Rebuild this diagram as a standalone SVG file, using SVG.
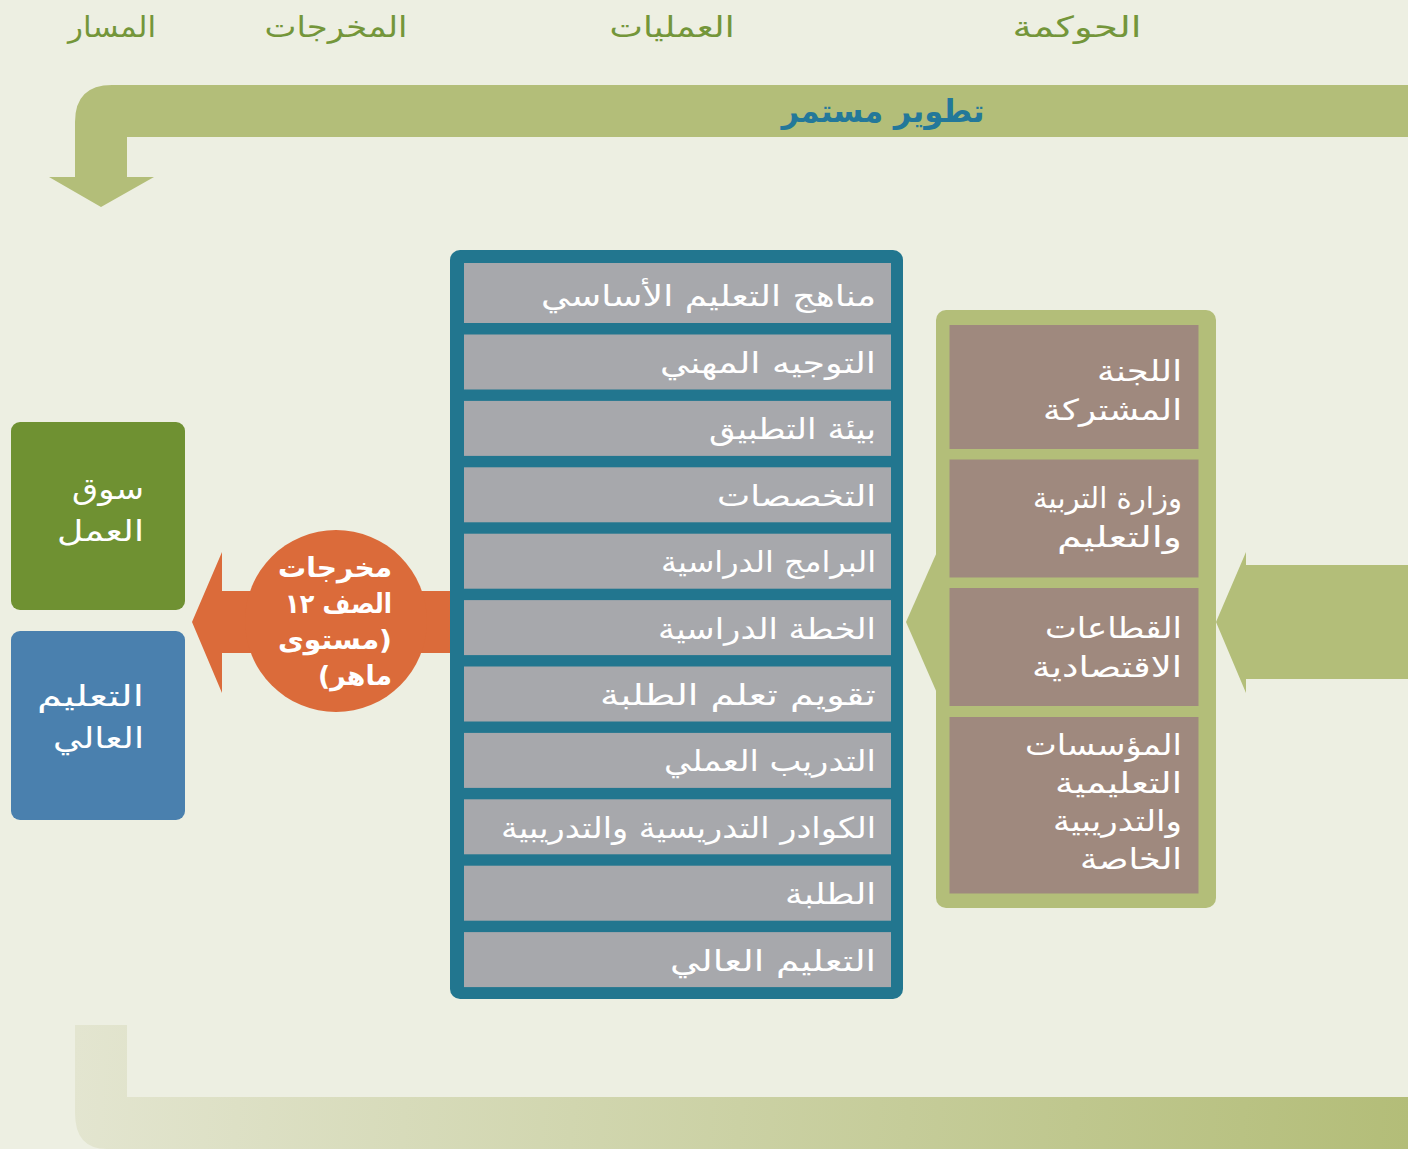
<svg xmlns="http://www.w3.org/2000/svg" width="1408" height="1149" viewBox="0 0 1408 1149">
<defs>
<linearGradient id="gBottom" x1="75" y1="1040" x2="1408" y2="1149" gradientUnits="userSpaceOnUse">
<stop offset="0" stop-color="#E3E5D0"/>
<stop offset="1" stop-color="#B3BD78"/>
</linearGradient>
<style>
.ar{font-family:"DejaVu Sans","Noto Sans",sans-serif;direction:rtl;unicode-bidi:embed}
.hdr{font-size:29px;fill:#74963A;text-anchor:middle}
.row{font-size:29px;fill:#FFFFFF;text-anchor:start}
.gov{font-size:29px;fill:#FFFFFF;text-anchor:start}
.side{font-size:29px;fill:#FFFFFF;text-anchor:start}
.org{font-size:27px;font-weight:bold;fill:#FFFFFF;text-anchor:start}
.rowbox{fill:#A7A8AC}
.govbox{fill:#9F897E}
</style>
</defs>
<rect width="1408" height="1149" fill="#EDEFE2"/>

<g id="headers">
<text class="ar hdr" x="112" y="37" textLength="88" lengthAdjust="spacingAndGlyphs">المسار</text>
<text class="ar hdr" x="336" y="37" textLength="143" lengthAdjust="spacingAndGlyphs">المخرجات</text>
<text class="ar hdr" x="672" y="37" textLength="125" lengthAdjust="spacingAndGlyphs">العمليات</text>
<text class="ar hdr" x="1077" y="37" textLength="129" lengthAdjust="spacingAndGlyphs">الحوكمة</text>
</g>

<g id="connectors">
<path id="top-arrow" d="M1408,85 L112,85 Q75,85 75,122 L75,177 L49,177 L101,207 L154,177 L127,177 L127,137 L1408,137 Z" fill="#B3BE79"/>
<path id="bottom-arrow" d="M75,1025 L127,1025 L127,1097 L1408,1097 L1408,1149 L107,1149 Q75,1149 75,1113 Z" fill="url(#gBottom)"/>
<polygon id="right-arrow" points="1408,565 1246,565 1246,552 1216,622 1246,693 1246,679 1408,679" fill="#B3BE79"/>
<polygon id="gov-arrow" points="937,552 906,622 937,693" fill="#B3BE79"/>
<polygon id="out-arrow" points="451,591 222,591 222,552 192,622 222,693 222,653 451,653" fill="#DB6B3A"/>
</g>

<g id="title">
<text class="ar" x="883" y="122" font-size="32" font-weight="bold" fill="#23789A" text-anchor="middle" textLength="203" lengthAdjust="spacingAndGlyphs">تطوير مستمر</text>
</g>

<g id="node-operations">
<rect x="450" y="250" width="453" height="749" rx="10" fill="#22768F"/>
<rect class="rowbox" x="464" y="263" width="427" height="60"/>
<rect class="rowbox" x="464" y="334.5" width="427" height="55"/>
<rect class="rowbox" x="464" y="400.9" width="427" height="55"/>
<rect class="rowbox" x="464" y="467.3" width="427" height="55"/>
<rect class="rowbox" x="464" y="533.7" width="427" height="55"/>
<rect class="rowbox" x="464" y="600.1" width="427" height="55"/>
<rect class="rowbox" x="464" y="666.5" width="427" height="55"/>
<rect class="rowbox" x="464" y="732.9" width="427" height="55"/>
<rect class="rowbox" x="464" y="799.3" width="427" height="55"/>
<rect class="rowbox" x="464" y="865.7" width="427" height="55"/>
<rect class="rowbox" x="464" y="932.1" width="427" height="55"/>
<text class="ar row" x="876" y="306" textLength="335" lengthAdjust="spacingAndGlyphs">مناهج التعليم الأساسي</text>
<text class="ar row" x="876" y="373" textLength="216" lengthAdjust="spacingAndGlyphs">التوجيه المهني</text>
<text class="ar row" x="876" y="439" textLength="167" lengthAdjust="spacingAndGlyphs">بيئة التطبيق</text>
<text class="ar row" x="876" y="506" textLength="159" lengthAdjust="spacingAndGlyphs">التخصصات</text>
<text class="ar row" x="876" y="572" textLength="215" lengthAdjust="spacingAndGlyphs">البرامج الدراسية</text>
<text class="ar row" x="876" y="639" textLength="218" lengthAdjust="spacingAndGlyphs">الخطة الدراسية</text>
<text class="ar row" x="876" y="705" textLength="276" lengthAdjust="spacingAndGlyphs">تقويم تعلم الطلبة</text>
<text class="ar row" x="876" y="771" textLength="212" lengthAdjust="spacingAndGlyphs">التدريب العملي</text>
<text class="ar row" x="876" y="838" textLength="375" lengthAdjust="spacingAndGlyphs">الكوادر التدريسية والتدريبية</text>
<text class="ar row" x="876" y="904" textLength="91" lengthAdjust="spacingAndGlyphs">الطلبة</text>
<text class="ar row" x="876" y="971" textLength="206" lengthAdjust="spacingAndGlyphs">التعليم العالي</text>
</g>

<g id="node-governance">
<rect x="936" y="310" width="280" height="598" rx="10" fill="#B3BE79"/>
<rect class="govbox" x="949.5" y="325" width="249" height="124"/>
<rect class="govbox" x="949.5" y="459.5" width="249" height="118"/>
<rect class="govbox" x="949.5" y="588" width="249" height="118"/>
<rect class="govbox" x="949.5" y="717" width="249" height="176.5"/>
<text class="ar gov" x="1182" y="381" textLength="85" lengthAdjust="spacingAndGlyphs">اللجنة</text>
<text class="ar gov" x="1182" y="420" textLength="139" lengthAdjust="spacingAndGlyphs">المشتركة</text>
<text class="ar gov" x="1182" y="508" textLength="149" lengthAdjust="spacingAndGlyphs">وزارة التربية</text>
<text class="ar gov" x="1182" y="547" textLength="125" lengthAdjust="spacingAndGlyphs">والتعليم</text>
<text class="ar gov" x="1182" y="638" textLength="137" lengthAdjust="spacingAndGlyphs">القطاعات</text>
<text class="ar gov" x="1182" y="677" textLength="150" lengthAdjust="spacingAndGlyphs">الاقتصادية</text>
<text class="ar gov" x="1182" y="755" textLength="157" lengthAdjust="spacingAndGlyphs">المؤسسات</text>
<text class="ar gov" x="1182" y="793" textLength="127" lengthAdjust="spacingAndGlyphs">التعليمية</text>
<text class="ar gov" x="1182" y="831" textLength="129" lengthAdjust="spacingAndGlyphs">والتدريبية</text>
<text class="ar gov" x="1182" y="869" textLength="102" lengthAdjust="spacingAndGlyphs">الخاصة</text>
</g>

<g id="node-outputs">
<circle cx="336" cy="621" r="91" fill="#DB6B3A"/>
<text class="ar org" x="392" y="577" textLength="114" lengthAdjust="spacingAndGlyphs">مخرجات</text>
<text class="ar org" x="392" y="613" textLength="107" lengthAdjust="spacingAndGlyphs">الصف ١٢</text>
<text class="ar org" x="392" y="649" textLength="114" lengthAdjust="spacingAndGlyphs">(مستوى</text>
<text class="ar org" x="392" y="685" textLength="74" lengthAdjust="spacingAndGlyphs">ماهر)</text>
</g>

<g id="node-labor-market">
<rect x="11" y="422" width="174" height="188" rx="9" fill="#6F9132"/>
<text class="ar side" x="144" y="499" textLength="72" lengthAdjust="spacingAndGlyphs">سوق</text>
<text class="ar side" x="144" y="541" textLength="87" lengthAdjust="spacingAndGlyphs">العمل</text>
</g>

<g id="node-higher-education">
<rect x="11" y="631" width="174" height="189" rx="9" fill="#4A80AE"/>
<text class="ar side" x="144" y="706" textLength="107" lengthAdjust="spacingAndGlyphs">التعليم</text>
<text class="ar side" x="144" y="748" textLength="91" lengthAdjust="spacingAndGlyphs">العالي</text>
</g>
</svg>
